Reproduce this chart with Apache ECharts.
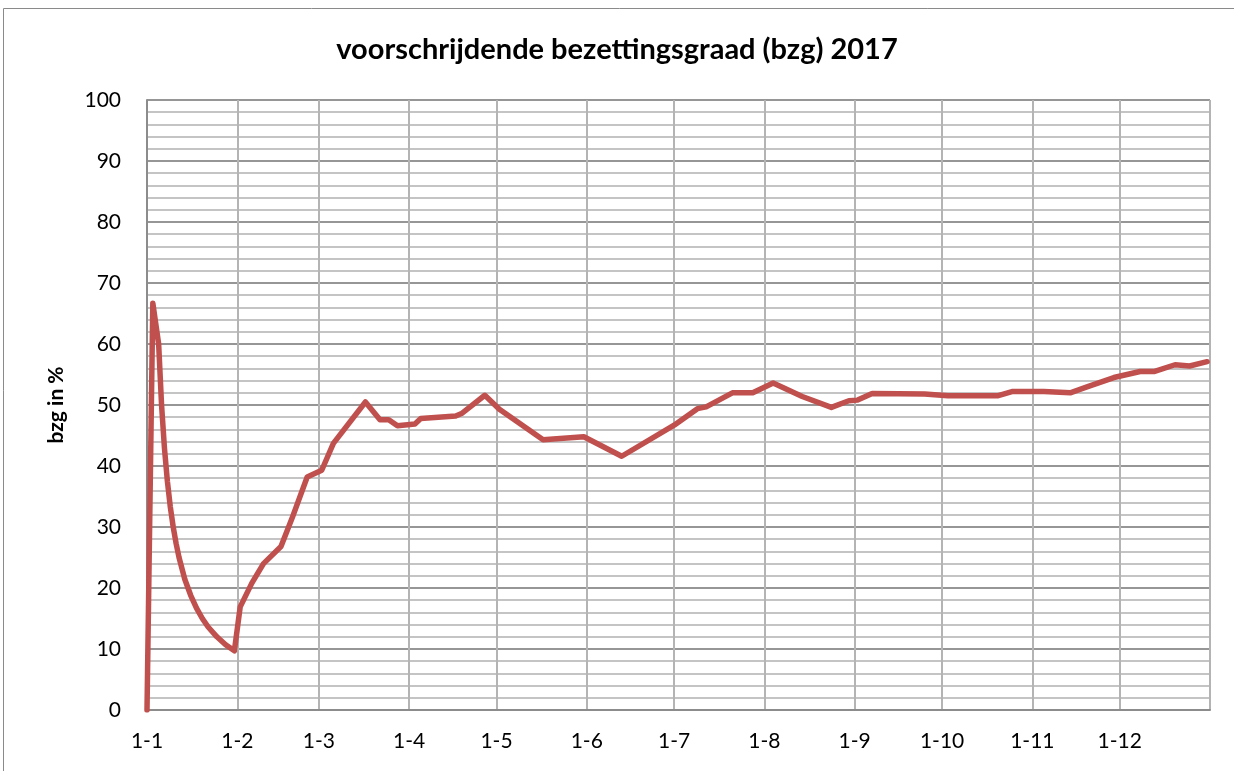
<!DOCTYPE html>
<html>
<head>
<meta charset="utf-8">
<script src="https://cdn.jsdelivr.net/npm/echarts@6/dist/echarts.min.js"></script>
<style>
html,body{margin:0;padding:0;background:#fff;}
#chart{width:1234px;height:771px;}
</style>
</head>
<body>
<div id="chart"></div>
<script>
// Day of year (0 = 1 January 2017) and running occupancy (%)
var days = [0, 2, 4, 5, 6, 7, 8, 9, 10, 11, 13, 15, 17, 19, 21, 24, 27, 30,
  32, 36, 40, 46, 50, 55, 60, 64, 75, 80, 83, 86, 92, 94, 106, 108, 116, 121,
  136, 150, 163, 181, 189, 192, 201, 208, 215, 225, 235, 241, 244, 249, 267,
  275, 292, 297, 308, 317, 323, 332, 341, 346, 353, 358, 364];
var values = [0, 66.7, 60.0, 50.0, 42.9, 37.5, 33.3, 30.0, 27.3, 25.0, 21.4, 18.8, 16.7, 15.0, 13.6, 12.0, 10.7, 9.7,
  16.9, 20.8, 24.0, 26.8, 31.7, 38.2, 39.3, 43.7, 50.5, 47.6, 47.6, 46.6, 46.9, 47.8, 48.2, 48.6, 51.6, 49.3,
  44.3, 44.8, 41.6, 46.7, 49.4, 49.7, 52.0, 52.0, 53.6, 51.4, 49.6, 50.7, 50.8, 51.9, 51.8,
  51.5, 51.5, 52.2, 52.2, 52.0, 53.0, 54.5, 55.5, 55.5, 56.6, 56.4, 57.1];
var monthStarts = [0, 31, 59, 90, 120, 151, 181, 212, 243, 273, 304, 334];
var monthLabels = ['1-1', '1-2', '1-3', '1-4', '1-5', '1-6', '1-7', '1-8', '1-9', '1-10', '1-11', '1-12'];
var yTicks = [0, 10, 20, 30, 40, 50, 60, 70, 80, 90, 100];
var titleText = 'voorschrijdende bezettingsgraad (bzg) 2017';
var yName = 'bzg in %';

var yearLength = 366; // 1-1-2017 .. 1-1-2018
var categories = [];
for (var i = 0; i < yearLength; i++) categories.push(String(i));
var seriesData = days.map(function (d, i) { return [d, values[i]]; });

var FONT = 'Lato, "Liberation Sans", sans-serif';
var chart = echarts.init(document.getElementById('chart'), null, {renderer: 'canvas'});
chart.setOption({
  backgroundColor: '#ffffff',
  animation: false,
  title: {
    text: titleText,
    left: 'center',
    top: 30,
    textStyle: {fontFamily: FONT, fontWeight: 'bold', fontSize: 29, color: '#000'}
  },
  graphic: [{
    type: 'rect',
    shape: {x: 3.5, y: 8.5, width: 1400, height: 1000},
    style: {fill: 'none', stroke: '#8a8a8a', lineWidth: 1},
    silent: true
  }],
  grid: {left: 147, top: 100, right: 24, bottom: 61, containLabel: false},
  xAxis: {
    type: 'category',
    data: categories,
    boundaryGap: false,
    axisLine: {show: true, lineStyle: {color: '#8c8c8c', width: 2}},
    axisTick: {show: false},
    axisLabel: {
      interval: function (idx) { return monthStarts.indexOf(idx) >= 0; },
      formatter: function (val, idx) {
        var k = monthStarts.indexOf(Number(val));
        return k >= 0 ? monthLabels[k] : '';
      },
      fontFamily: FONT, fontSize: 21, color: '#000', margin: 21
    },
    splitLine: {
      show: true,
      interval: function (idx) { return monthStarts.indexOf(idx) >= 0 || idx === yearLength - 1; },
      lineStyle: {color: '#b4b4b4', width: 2}
    }
  },
  yAxis: {
    type: 'value',
    min: yTicks[0],
    max: yTicks[yTicks.length - 1],
    interval: 10,
    name: yName,
    nameLocation: 'middle',
    nameGap: 80,
    nameTextStyle: {fontFamily: FONT, fontWeight: 'bold', fontSize: 21, color: '#000'},
    axisLine: {show: true, lineStyle: {color: '#8c8c8c', width: 2}},
    axisTick: {show: false},
    axisLabel: {fontFamily: FONT, fontSize: 21, color: '#000', margin: 26},
    splitLine: {show: true, lineStyle: {color: '#969696', width: 2}},
    minorTick: {show: false, splitNumber: 5},
    minorSplitLine: {show: true, lineStyle: {color: '#c4c4c4', width: 2}}
  },
  series: [{
    type: 'line',
    data: seriesData,
    showSymbol: false,
    symbol: 'none',
    lineStyle: {color: '#c0504d', width: 5.5, join: 'round', cap: 'round'},
    z: 5
  }]
});
</script>
</body>
</html>
